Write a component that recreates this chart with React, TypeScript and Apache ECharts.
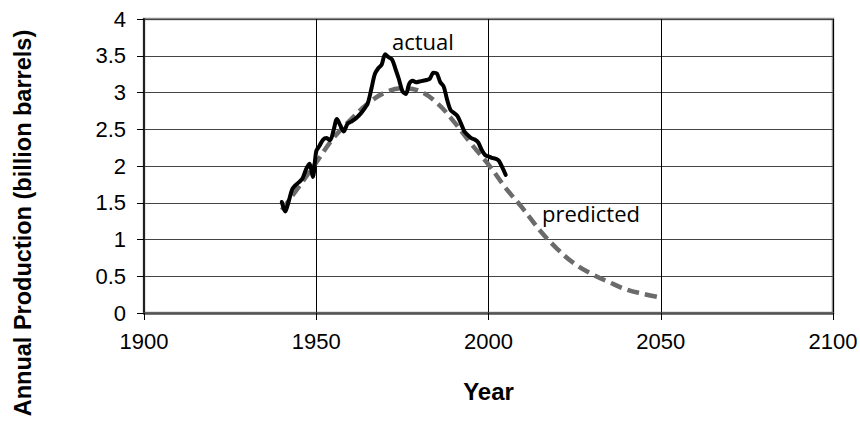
import React, { useEffect, useRef } from "react";
import * as echarts from "echarts";

const actualYears = [1940,1941,1942,1943,1944,1945,1946,1947,1948,1949,1950,1951,1952,1953,1954,1955,1956,1957,1958,1959,1960,1961,1962,1963,1964,1965,1966,1967,1968,1969,1970,1971,1972,1973,1974,1975,1976,1977,1978,1979,1980,1981,1982,1983,1984,1985,1986,1987,1988,1989,1990,1991,1992,1993,1994,1995,1996,1997,1998,1999,2000,2001,2002,2003,2004,2005];
const actualValues = [1.51,1.38,1.52,1.68,1.74,1.78,1.83,1.95,2.03,1.85,2.2,2.28,2.36,2.38,2.35,2.48,2.64,2.55,2.47,2.57,2.6,2.63,2.67,2.72,2.78,2.86,3.05,3.25,3.33,3.38,3.52,3.48,3.45,3.32,3.18,3.02,2.98,3.12,3.16,3.14,3.15,3.16,3.17,3.19,3.27,3.26,3.14,3.08,2.9,2.76,2.72,2.68,2.58,2.47,2.42,2.38,2.36,2.32,2.22,2.15,2.13,2.11,2.1,2.07,1.98,1.88];

const predictedYears = [1940,1945,1950,1955,1960,1965,1970,1975,1980,1985,1990,1995,2000,2005,2010,2015,2020,2025,2030,2035,2040,2045,2050];
const predictedValues = [1.4,1.72,2.05,2.38,2.63,2.85,3.0,3.06,3.02,2.86,2.6,2.3,2.02,1.7,1.42,1.12,0.87,0.67,0.53,0.42,0.32,0.26,0.21];

const xTicks = [1900, 1950, 2000, 2050, 2100];
const yTicks = [0, 0.5, 1, 1.5, 2, 2.5, 3, 3.5, 4];

const labelFont = "'Liberation Sans', Arial, sans-serif";

export default function App() {
  const ref = useRef<HTMLDivElement>(null);
  useEffect(() => {
    if (!ref.current) return;
    const chart = echarts.init(ref.current, null, { renderer: "svg" });
    chart.setOption({
      animation: false,
      backgroundColor: "#fff",
      grid: {
        left: 144,
        right: 27,
        top: 19,
        bottom: 115,
        show: true,
        borderColor: "#8c8c8c",
        borderWidth: 2.5,
        containLabel: false,
        outerBoundsMode: "none",
      },
      xAxis: {
        type: "value",
        min: xTicks[0],
        max: xTicks[xTicks.length - 1],
        interval: 50,
        name: "Year",
        nameLocation: "middle",
        nameGap: 66,
        nameTextStyle: { fontFamily: labelFont, fontSize: 24, fontWeight: "bold", color: "#000" },
        axisLine: { show: true, lineStyle: { color: "#555", width: 2.5 } },
        axisTick: { show: true, inside: false, length: 7, lineStyle: { color: "#000", width: 1 } },
        axisLabel: { fontFamily: labelFont, fontSize: 22, color: "#000", margin: 17, formatter: (v: number) => String(v) },
        splitLine: { show: true, lineStyle: { color: "#000", width: 1 } },
      },
      yAxis: {
        type: "value",
        min: yTicks[0],
        max: yTicks[yTicks.length - 1],
        interval: 0.5,
        axisLine: { show: true, lineStyle: { color: "#222", width: 2 } },
        axisTick: { show: true, inside: false, length: 7, lineStyle: { color: "#000", width: 1 } },
        axisLabel: { fontFamily: labelFont, fontSize: 22, color: "#000", margin: 18, formatter: (v: number) => String(v) },
        splitLine: { show: true, lineStyle: { color: "#444", width: 1 } },
      },
      series: [
        {
          type: "line",
          data: predictedYears.map((y, i) => [y, predictedValues[i]]),
          smooth: 0.4,
          showSymbol: false,
          lineStyle: { color: "#6b6b6b", width: 4.5, type: [12, 6], cap: "butt" },
          z: 2,
        },
        {
          type: "line",
          data: actualYears.map((y, i) => [y, actualValues[i]]),
          smooth: 0.3,
          showSymbol: false,
          lineStyle: { color: "#000", width: 4, cap: "round", join: "round" },
          z: 3,
        },
      ],
      graphic: [
        {
          type: "text",
          x: 23,
          y: 223,
          rotation: Math.PI / 2,
          style: {
            text: "Annual Production (billion barrels)",
            fontFamily: labelFont,
            fontSize: 23.5,
            fontWeight: "bold",
            fill: "#000",
            align: "center",
            verticalAlign: "middle",
          },
        },
        {
          type: "text",
          left: 392,
          top: 30,
          style: { text: "actual", fontFamily: "'Open Sans', sans-serif", fontSize: 22, fill: "#000" },
        },
        {
          type: "text",
          left: 542,
          top: 202,
          style: { text: "predicted", fontFamily: "'Open Sans', sans-serif", fontSize: 22, fill: "#000" },
        },
      ],
    });
    return () => chart.dispose();
  }, []);
  return <div ref={ref} style={{ width: 860, height: 428, position: "absolute", left: 0, top: 0 }} />;
}
